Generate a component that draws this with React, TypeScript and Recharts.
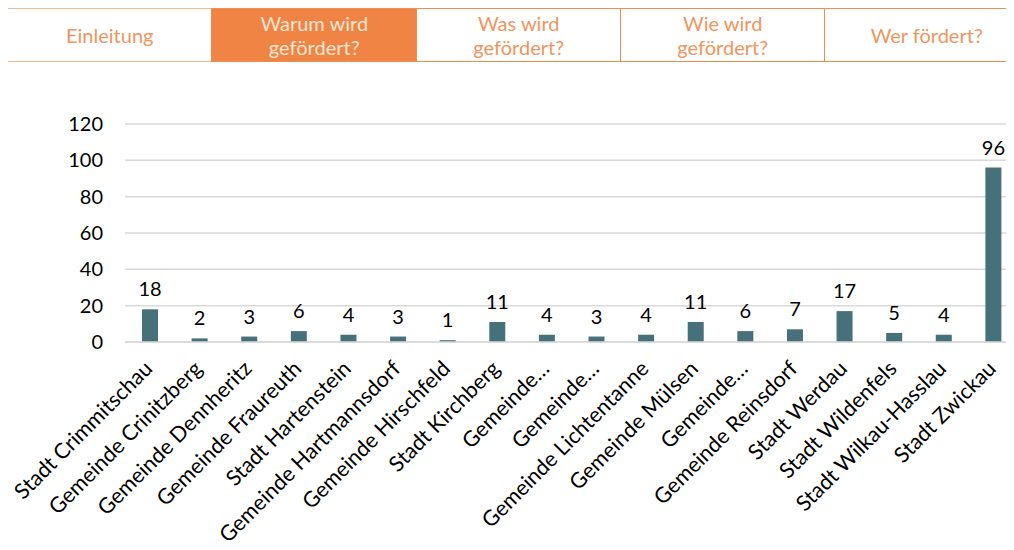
import { FC } from "react";
import {
  BarChart,
  Bar,
  XAxis,
  YAxis,
  CartesianGrid,
  LabelList,
} from "recharts";

const municipalities = [
  "Stadt Crimmitschau",
  "Gemeinde Crinitzberg",
  "Gemeinde Dennheritz",
  "Gemeinde Fraureuth",
  "Stadt Hartenstein",
  "Gemeinde Hartmannsdorf",
  "Gemeinde Hirschfeld",
  "Stadt Kirchberg",
  "Gemeinde…",
  "Gemeinde…",
  "Gemeinde Lichtentanne",
  "Gemeinde Mülsen",
  "Gemeinde…",
  "Gemeinde Reinsdorf",
  "Stadt Werdau",
  "Stadt Wildenfels",
  "Stadt Wilkau-Hasslau",
  "Stadt Zwickau",
];

const counts = [18, 2, 3, 6, 4, 3, 1, 11, 4, 3, 4, 11, 6, 7, 17, 5, 4, 96];

const yTicks = [0, 20, 40, 60, 80, 100, 120];

const tabs = [
  ["Einleitung"],
  ["Warum wird", "gefördert?"],
  ["Was wird", "gefördert?"],
  ["Wie wird", "gefördert?"],
  ["Wer fördert?"],
];
const activeTab = 1;

const FONT = "Lato, 'Open Sans', sans-serif";
const BAR_COLOR = "#46707A";

const data = municipalities.map((name, i) => ({ name, count: counts[i] }));

const AngledTick: FC<any> = ({ x, y, payload }) => (
  <text
    transform={`translate(${x + 4}, ${y + 28}) rotate(-45)`}
    textAnchor="end"
    fontSize={21.5}
    fontFamily={FONT}
    fill="#000"
  >
    {payload.value}
  </text>
);

const TabBar: FC = () => (
  <div
    style={{
      position: "absolute",
      left: -1,
      top: 0,
      width: 1007,
      height: 54,
      overflow: "hidden",
    }}
  >
    <div style={{ display: "flex", width: 1100 }}>
      {tabs.map((lines, i) => {
        const active = i === activeTab;
        return (
          <div
            key={i}
            style={{
              boxSizing: "border-box",
              flex: "none",
              width: i === 1 ? 206.5 : 205.5,
              height: 54,
              border: `1.5px solid ${i === 0 ? "#F6B88F" : "#F08C4E"}`,
              marginLeft: i === 0 ? 0 : -1.5,
              background: active ? "#EF8444" : "#fff",
              color: active ? "#FCE4D2" : "#F1955D",
              display: "flex",
              flexDirection: "column",
              justifyContent: "center",
              alignItems: "center",
              fontFamily: FONT,
              fontSize: 20,
              lineHeight: "24px",
            }}
          >
            {lines.map((l) => (
              <span key={l}>{l}</span>
            ))}
          </div>
        );
      })}
    </div>
  </div>
);

export default function App() {
  return (
    <div style={{ position: "relative", width: 1006, height: 534 }}>
      <TabBar />
      <div
        style={{
          position: "absolute",
          left: -8,
          top: 62,
          width: 1014,
          height: 480,
          overflow: "hidden",
        }}
      >
        <BarChart
          width={1018}
          height={480}
          data={data}
          margin={{ top: 54, right: 0, left: 0, bottom: 0 }}
        >
          <CartesianGrid
            vertical={false}
            stroke="#D9D9D9"
            strokeWidth={1.5}
          />
          <XAxis
            dataKey="name"
            interval={0}
            height={208}
            tickLine={false}
            tickSize={0}
            tickMargin={0}
            axisLine={{ stroke: "#D9D9D9", strokeWidth: 1.5 }}
            tick={<AngledTick />}
          />
          <YAxis
            width={125}
            domain={[0, 120]}
            ticks={yTicks}
            axisLine={false}
            tickLine={false}
            tickSize={0}
            tickMargin={22}
            tick={{ fontSize: 20, fontFamily: FONT, fill: "#000" }}
          />
          <Bar
            dataKey="count"
            fill={BAR_COLOR}
            barSize={16}
            isAnimationActive={false}
          >
            <LabelList
              dataKey="count"
              position="top"
              offset={13}
              fill="#000"
              fontSize={20}
              fontFamily={FONT}
            />
          </Bar>
        </BarChart>
      </div>
    </div>
  );
}
